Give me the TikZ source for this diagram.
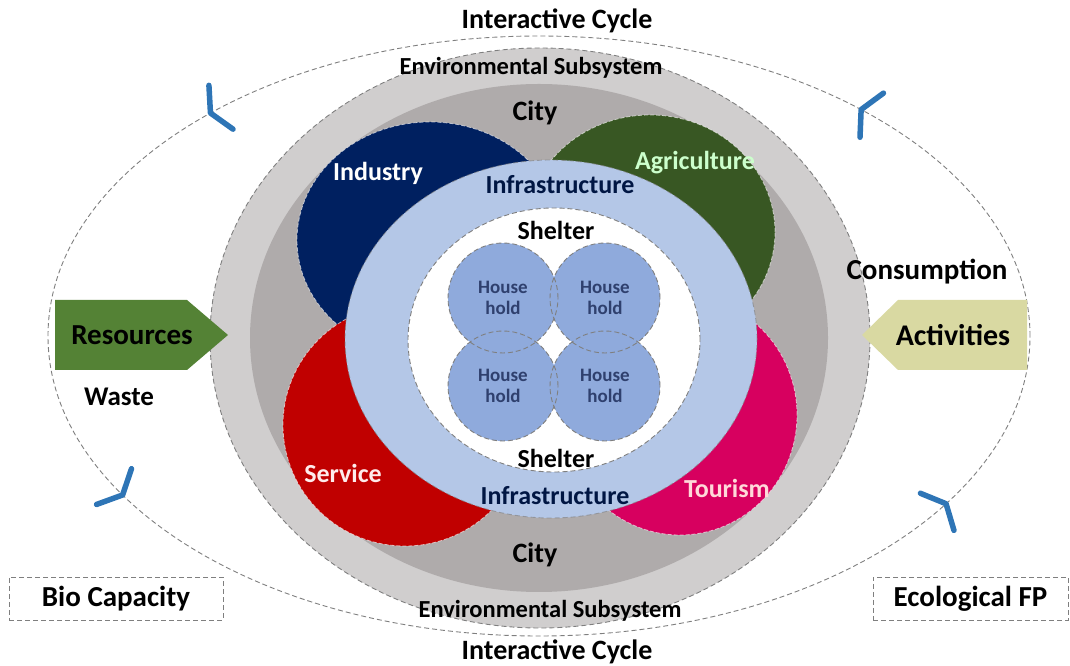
\documentclass[tikz,border=0pt]{standalone}
\usepackage{fontspec}
\setmainfont{Carlito}
\definecolor{envgray}{HTML}{D0CECE}
\definecolor{citygray}{HTML}{AFABAB}
\definecolor{industryblue}{HTML}{002060}
\definecolor{agrigreen}{HTML}{385723}
\definecolor{servicered}{HTML}{C00000}
\definecolor{tourismpink}{RGB}{215,0,95}
\definecolor{infrablue}{HTML}{B4C7E7}
\definecolor{houseblue}{HTML}{8FAADC}
\definecolor{housetext}{RGB}{47,64,110}
\definecolor{resgreen}{HTML}{548235}
\definecolor{actkhaki}{RGB}{217,217,162}
\definecolor{markblue}{HTML}{2E75B6}
\definecolor{dashgray}{HTML}{7F7F7F}
\begin{document}
\begin{tikzpicture}[x=1pt, y=1pt,
    lbl/.style={inner sep=0pt, font=\fontsize{26}{28}\selectfont\bfseries},
    biglbl/.style={lbl, font=\fontsize{29}{31}\selectfont\bfseries},
    envlbl/.style={lbl, font=\fontsize{24.5}{26}\selectfont\bfseries},
    houselbl/.style={inner sep=0pt, align=center, text=housetext,
      font=\fontsize{19}{21}\selectfont\bfseries},
    ring/.style={draw=dashgray, line width=0.9pt, dash pattern=on 5pt off 3pt},
    petal/.style={fill=#1, draw=white, draw opacity=0.6, line width=0.8pt,
      dash pattern=on 4pt off 2pt},
    cycmark/.style={draw=markblue, line width=5.5pt, line cap=round, line join=round},
    fpbox/.style={draw=dashgray, line width=0.8pt, dash pattern=on 5pt off 3pt,
      minimum height=43pt, inner sep=0pt, font=\fontsize{29}{31}\selectfont\bfseries}]
  \useasboundingbox (0,0) rectangle (1070,666);

  \draw[ring] (539,330) ellipse [x radius=491, y radius=300];
  \filldraw[ring, fill=envgray] (540,328) ellipse [x radius=330, y radius=290];
  \fill[citygray] (539,328) ellipse [x radius=289, y radius=254];

  \filldraw[petal=industryblue] (430,426) ellipse [x radius=133, y radius=118];
  \filldraw[petal=agrigreen] (650,434) ellipse [x radius=125, y radius=117];
  \filldraw[petal=servicered] (405,241) ellipse [x radius=122, y radius=121];
  \filldraw[petal=tourismpink] (680,251) ellipse [x radius=117, y radius=120];

  \filldraw[ring, draw opacity=0.6, fill=infrablue] (551,327) ellipse [x radius=206, y radius=179];
  \filldraw[ring, fill=white] (554,326) ellipse [x radius=146, y radius=132];

  \foreach \x/\y in {503/368, 605/368, 503/280, 605/280}
    \fill[houseblue] (\x,\y) circle (55);
  \foreach \x/\y [count=\i] in {503/368, 605/368, 503/280, 605/280} {
    \draw[ring] (\x,\y) circle (55);
    \node[houselbl] (house\i) at (\x,\y) {House\\hold};
  }

  \fill[resgreen] (55,296) -- (187,296) -- (228,331) -- (187,366) -- (55,366) -- cycle;
  \fill[actkhaki] (1027,296) -- (898,296) -- (862,331) -- (898,366) -- (1027,366) -- cycle;

  \foreach \t in {49, 132, 212, 326} {
    \pgfmathsetmacro\ang{atan2(300*cos(\t), -491*sin(\t))}
    \begin{scope}[shift={({539+491*cos(\t)}, {330+300*sin(\t)})}, rotate=\ang]
      \draw[cycmark] (-12,25) -- (0,0) -- (-12,-25);
    \end{scope}
  }

  \node[envlbl, font=\fontsize{28}{30}\selectfont\bfseries] (cycletop) at (557,645) {Interactive Cycle};
  \node[envlbl, font=\fontsize{28}{30}\selectfont\bfseries] (cyclebot) at (557,14) {Interactive Cycle};
  \node[envlbl] (envtop) at (531,598) {Environmental Subsystem};
  \node[envlbl] (envbot) at (550,55) {Environmental Subsystem};
  \node[lbl, font=\fontsize{28}{30}\selectfont\bfseries] (citytop) at (535,553) {City};
  \node[lbl, font=\fontsize{28}{30}\selectfont\bfseries] (citybot) at (535,111) {City};
  \node[lbl, text=industryblue!70!black] (infratop) at (560,481) {Infrastructure};
  \node[lbl, text=industryblue!70!black] (infrabot) at (555,170) {Infrastructure};
  \node[lbl] (sheltertop) at (556,436) {Shelter};
  \node[lbl] (shelterbot) at (556,208) {Shelter};

  \node[lbl, text=white] (industry) at (378,493) {Industry};
  \node[lbl, text=green!20!white] (agriculture) at (695,503) {Agriculture};
  \node[lbl, text=red!8!white] (service) at (343,193) {Service};
  \node[lbl, text=pink!60!white] (tourism) at (727,178) {Tourism};

  \node[biglbl] (consumption) at (927,394) {Consumption};
  \node[lbl, font=\fontsize{27}{29}\selectfont\bfseries] (waste) at (119,269) {Waste};
  \node[biglbl] (resources) at (132,331) {Resources};
  \node[biglbl, font=\fontsize{30}{32}\selectfont\bfseries] (activities) at (953,331) {Activities};

  \node[fpbox, minimum width=214pt] (biocap) at (116,67.5) {Bio Capacity};
  \node[fpbox, minimum width=195pt] (ecofp) at (970.5,67.5) {Ecological FP};
\end{tikzpicture}
\end{document}
